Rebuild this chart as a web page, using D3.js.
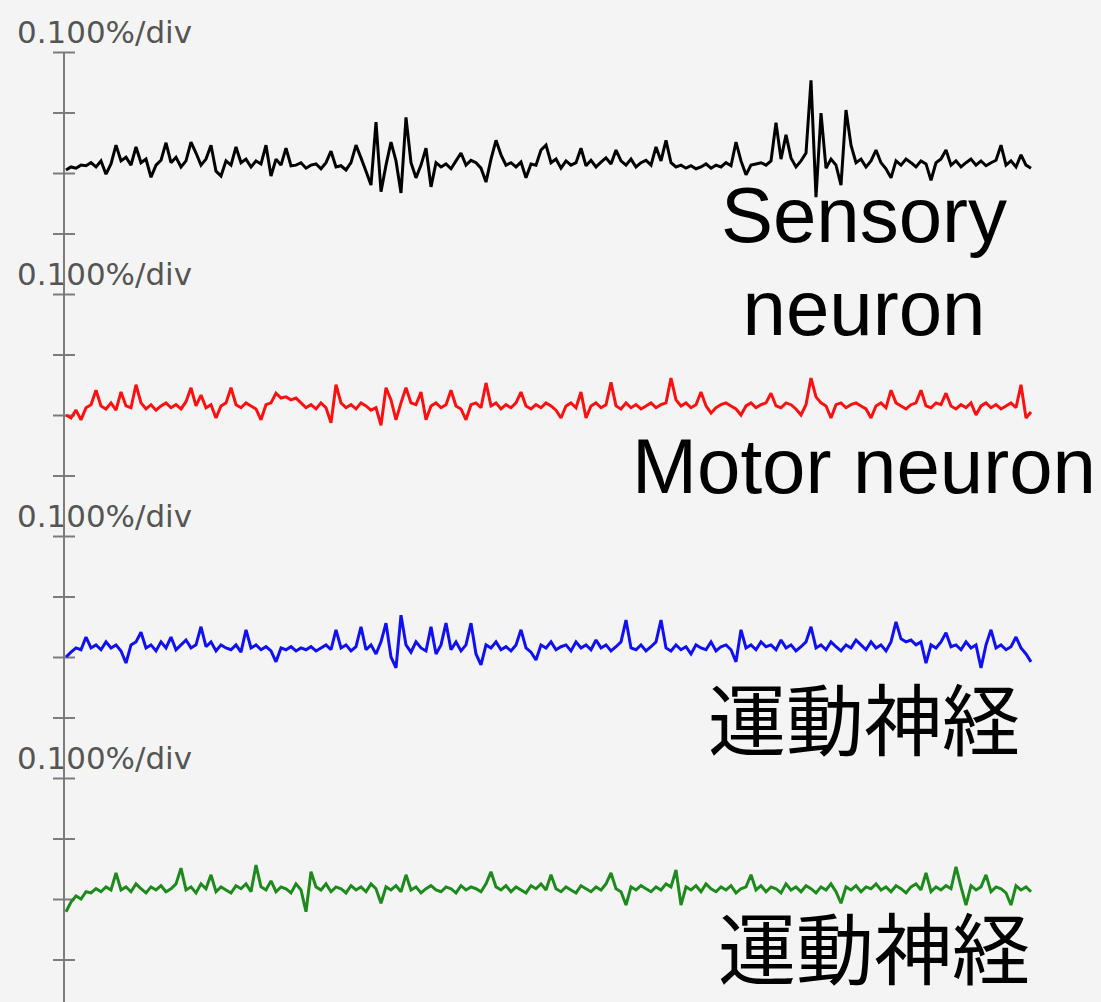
<!DOCTYPE html>
<html>
<head>
<meta charset="utf-8">
<script src="https://cdn.jsdelivr.net/npm/d3@7"></script>
<style>
  html, body { margin: 0; padding: 0; background: #f4f4f4; }
  svg { display: block; }
</style>
</head>
<body>
<svg id="chart" width="1101" height="1002"></svg>
<script>
// Recorded traces, values in units of 0.001 % relative to each panel's zero line.
// Samples are evenly spaced in time.
const sensoryTrace = [
  5,10,8,13,12,17,10,20,-2,15,46,20,26,13,43,17,23,-7,13,21,
  50,17,26,10,20,51,33,13,23,46,3,-5,20,13,43,17,23,10,20,15,
  46,-5,23,13,41,12,13,17,8,13,15,7,17,36,10,12,5,17,46,25,
  3,-20,84,-31,13,51,20,-33,92,17,-8,13,41,-23,17,10,15,7,20,33,
  13,21,17,8,-15,23,54,30,13,17,10,18,-8,15,13,38,46,17,23,8,
  20,13,17,41,12,21,10,18,25,15,38,20,13,23,10,17,21,13,43,20,
  54,17,10,13,8,12,7,10,15,8,13,10,17,12,51,20,-3,13,15,17,
  13,20,83,23,63,25,10,20,33,153,-40,99,8,23,13,-20,104,46,17,23,
  10,20,38,17,7,-8,20,13,23,17,10,20,15,-12,17,23,38,13,20,10,
  17,23,13,20,12,17,21,46,13,20,10,30,13,8
];
const motorTrace = [
  0,-5,8,-8,12,17,41,15,10,20,8,38,15,12,50,20,10,17,8,15,
  20,12,17,10,22,45,15,33,12,17,-5,15,20,45,17,12,20,15,10,-8,
  17,20,36,28,30,25,28,20,12,17,10,20,12,-13,50,20,12,17,10,20,
  15,8,12,-17,45,25,-8,20,45,20,17,38,-8,15,20,12,17,41,15,10,
  -8,17,20,12,53,15,20,10,17,12,20,38,15,10,17,12,20,15,8,-5,
  15,20,12,38,-5,15,20,12,17,54,15,10,20,12,17,10,15,20,12,17,
  20,61,25,15,20,12,17,38,15,3,12,17,20,15,10,0,15,20,12,17,
  20,36,15,12,20,17,10,0,17,61,30,20,15,-5,17,20,12,17,20,15,
  10,-5,15,20,12,41,20,15,10,17,20,41,15,12,20,17,36,15,10,17,
  12,20,0,15,20,12,17,10,15,20,12,50,-5,5
];
const motorJaTrace = [
  0,8,15,12,33,15,20,12,25,15,20,10,-10,20,25,41,15,20,10,25,
  15,33,12,20,28,15,20,50,17,25,10,20,15,12,20,8,45,15,20,12,
  17,10,-8,15,12,17,10,15,12,17,10,15,20,12,45,15,20,10,17,50,
  12,20,5,25,56,0,-18,69,20,8,25,15,10,50,5,20,56,12,25,10,
  20,56,5,-13,20,15,25,12,17,10,20,45,15,8,-5,20,15,25,12,17,
  20,10,25,15,20,12,28,15,20,10,17,25,61,15,12,20,10,17,25,61,
  15,10,20,12,17,5,20,15,12,25,10,17,20,12,-8,45,15,20,12,25,
  17,20,12,28,15,20,10,17,25,50,15,20,12,25,17,10,20,15,28,20,
  12,25,15,20,10,25,58,30,25,28,20,25,-10,20,15,25,40,17,20,12,
  25,15,20,-18,20,45,15,20,12,17,33,15,5,-8
];
const motorJaTrace2 = [
  -21,-5,5,0,12,10,17,12,20,15,43,15,20,12,25,17,10,20,15,22,
  12,17,25,51,15,20,10,25,17,40,12,20,15,10,22,17,25,12,56,20,
  15,30,12,20,17,10,25,15,-21,45,20,15,25,12,20,17,10,22,15,20,
  12,25,17,-7,20,15,22,12,40,15,20,10,17,22,15,12,20,17,10,22,
  15,20,17,12,25,45,20,15,22,12,20,15,10,22,17,25,15,40,17,12,
  20,15,10,22,17,12,20,15,25,43,17,12,-10,20,15,22,17,12,20,15,
  25,20,48,-10,20,15,22,12,25,17,12,20,15,22,10,17,20,40,15,22,
  12,20,17,10,25,15,20,12,22,17,10,20,15,25,12,-7,20,15,22,12,
  20,17,25,15,20,12,22,17,10,20,25,15,43,12,20,15,22,17,53,20,
  -10,22,15,20,40,12,20,17,10,-10,22,15,20,12
];

const traces = [sensoryTrace, motorTrace, motorJaTrace, motorJaTrace2];
const traceColors = ["#000000", "#ff1010", "#1010f5", "#1e8a1e"];
const scaleLabel = "0.100%/div";
const tickValues = [0.2, 0.1, 0, -0.1];          // percent
const nameLines = [
  { text: "Sensory", cx: 864, y: 242, cjk: false },
  { text: "neuron", cx: 864, y: 335, cjk: false },
  { text: "Motor neuron", cx: 864, y: 493, cjk: false },
  { text: "運動神経", cx: 864, y: 750, cjk: true },
  { text: "運動神経", cx: 874, y: 979, cjk: true }
];

const svg = d3.select("#chart");
const W = 1101, H = 1002;
const axisX = 64;
const panelTop0 = 52, panelH = 242;

svg.append("rect").attr("width", W).attr("height", H).attr("fill", "#f4f4f4");

const axisColor = "#7c7c7c";

traces.forEach((data, p) => {
  const top = panelTop0 + p * panelH;
  const x = d3.scaleLinear().domain([0, data.length - 1]).range([66, 1031]);
  const y = d3.scaleLinear().domain([0.2, -0.2]).range([top, top + panelH]);

  // scale caption
  svg.append("text")
    .attr("x", 17).attr("y", top - 9)
    .attr("font-family", "'DejaVu Sans Condensed', 'DejaVu Sans', sans-serif")
    .attr("font-size", 30)
    .attr("font-weight", 300)
    .attr("fill", "#555")
    .attr("textLength", 175)
    .attr("lengthAdjust", "spacingAndGlyphs")
    .text(scaleLabel);

  // division ticks crossing the vertical axis
  const g = svg.append("g").attr("transform", `translate(${axisX},0)`)
    .call(d3.axisLeft(y).tickValues(tickValues).tickSize(11).tickFormat(""));
  g.select(".domain").remove();
  g.selectAll(".tick line").attr("x1", 11).attr("stroke", axisColor).attr("stroke-width", 2);

  // trace
  const line = d3.line()
    .x((d, i) => x(i))
    .y(d => y(d / 1000));
  svg.append("path")
    .datum(data)
    .attr("d", line)
    .attr("fill", "none")
    .attr("stroke", traceColors[p])
    .attr("stroke-width", 3)
    .attr("stroke-linejoin", "miter")
    .attr("stroke-miterlimit", 2);
});

// vertical axis line running through all panels
svg.append("line")
  .attr("x1", axisX).attr("x2", axisX)
  .attr("y1", panelTop0).attr("y2", H)
  .attr("stroke", axisColor).attr("stroke-width", 2);

// trace names
svg.selectAll("text.name").data(nameLines).enter().append("text")
  .attr("class", "name")
  .attr("x", d => d.cx).attr("y", d => d.y)
  .attr("text-anchor", "middle")
  .attr("font-family", d => d.cjk ? "'Noto Sans CJK JP', sans-serif" : "'Liberation Sans', Arial, sans-serif")
  .attr("font-size", 78)
  .attr("fill", "#000")
  .text(d => d.text);
</script>
</body>
</html>
